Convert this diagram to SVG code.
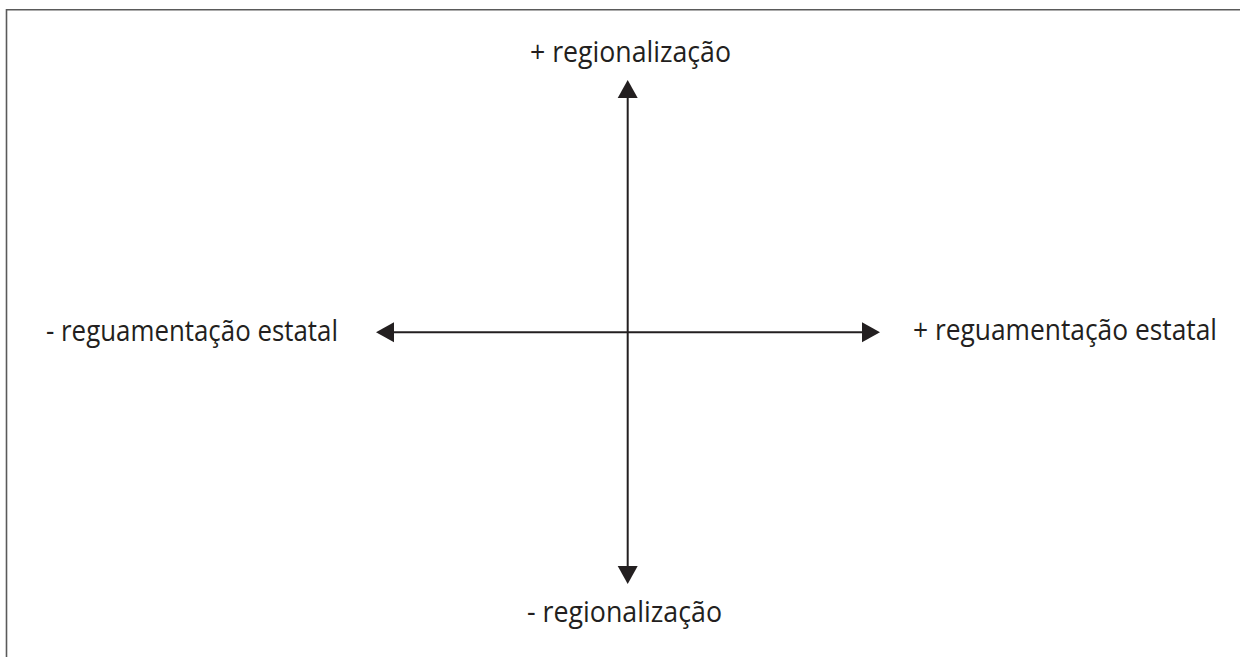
<svg xmlns="http://www.w3.org/2000/svg" width="1240" height="657" viewBox="0 0 1240 657">
<style>
.lbl{font-family:"Open Sans","Noto Sans","Liberation Sans",sans-serif;font-size:28.5px;fill:#231f20}
.ax{stroke:#231f20;stroke-width:2;fill:none}
.ah{fill:#231f20}
.frame{stroke:#5a5a5a;stroke-width:1.6;fill:none}
</style>
<rect width="1240" height="657" fill="#fff"/>
<path class="frame" d="M6.5,657 V9.8 H1240"/>
<g id="connectors">
<line class="ax" x1="627.7" y1="96" x2="627.7" y2="568"/>
<line class="ax" x1="392" y1="332.3" x2="863" y2="332.3"/>
<polygon class="ah" points="627.7,80 617.7,98 637.7,98"/>
<polygon class="ah" points="627.7,584 617.7,566 637.7,566"/>
<polygon class="ah" points="376,332.3 394,322.3 394,342.3"/>
<polygon class="ah" points="880,332.3 862,322.3 862,342.3"/>
</g>
<g id="top"><text class="lbl" x="530" y="62" textLength="201" lengthAdjust="spacingAndGlyphs">+ regionalização</text></g>
<g id="bottom"><text class="lbl" x="527" y="622" textLength="195" lengthAdjust="spacingAndGlyphs">- regionalização</text></g>
<g id="left"><text class="lbl" x="46" y="341" textLength="292" lengthAdjust="spacingAndGlyphs">- reguamentação estatal</text></g>
<g id="right"><text class="lbl" x="913" y="340" textLength="304" lengthAdjust="spacingAndGlyphs">+ reguamentação estatal</text></g>
</svg>
